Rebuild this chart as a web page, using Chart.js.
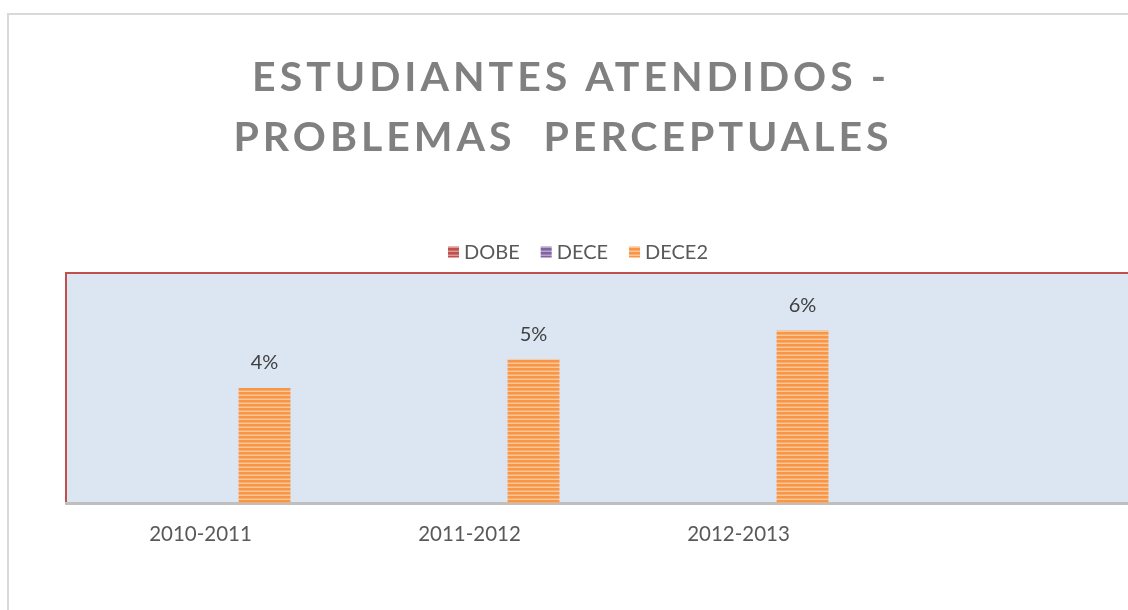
<!DOCTYPE html>
<html>
<head>
<meta charset="utf-8">
<script src="https://cdn.jsdelivr.net/npm/chart.js@4/dist/chart.umd.min.js"></script>
<style>
  html, body { margin: 0; padding: 0; overflow: hidden; background: #fff; }
  #wrap { width: 1160px; height: 610px; }
</style>
</head>
<body>
<div id="wrap"><canvas id="chart" width="1160" height="610"></canvas></div>
<script>
// datos
const categories = ['2010-2011', '2011-2012', '2012-2013', ''];
const seriesNames = ['DOBE', 'DECE', 'DECE2'];
const dobeValues = [null, null, null, null];
const deceValues = [null, null, null, null];
const dece2Values = [0.04, 0.05, 0.06, null];
const titleLines = ['ESTUDIANTES ATENDIDOS -', 'PROBLEMAS  PERCEPTUALES'];

const FONT = 'Lato, "Open Sans", sans-serif';

// relleno rayado como en Excel
function stripes(base, light, mid) {
    const c = document.createElement('canvas');
    c.width = 4; c.height = 4;
    const g = c.getContext('2d');
    g.fillStyle = base; g.fillRect(0, 0, 4, 2);
    g.fillStyle = mid; g.fillRect(0, 2, 4, 1);
    g.fillStyle = light; g.fillRect(0, 3, 4, 1);
    return g.createPattern(c, 'repeat');
}

const ctx = document.getElementById('chart').getContext('2d');
const fills = [
    stripes('#c0504d', '#dc9a98', '#cc6f6c'),
    stripes('#8064a2', '#b6a5cb', '#9a83b6'),
    stripes('#f79646', '#fcc696', '#f9ac6b')
];

const decoPlugin = {
    id: 'deco',
    beforeDraw(chart) {
        const c = chart.ctx;
        const a = chart.chartArea;
        c.save();
        c.fillStyle = '#ffffff';
        c.fillRect(0, 0, chart.width, chart.height);
        // marco exterior
        c.strokeStyle = '#d9d9d9';
        c.lineWidth = 2;
        c.strokeRect(8, 14, chart.width + 20, chart.height + 20);
        // fondo del area de trazado
        c.fillStyle = '#dce6f2';
        c.fillRect(a.left, a.top, a.right - a.left, a.bottom - a.top);
        c.strokeStyle = '#c0504d';
        c.lineWidth = 2;
        c.beginPath();
        c.moveTo(a.left, a.bottom);
        c.lineTo(a.left, a.top);
        c.lineTo(a.right, a.top);
        c.lineTo(a.right, a.bottom);
        c.stroke();
        // titulo
        c.fillStyle = '#808080';
        c.font = 'bold 41px ' + FONT;
        c.letterSpacing = '4px';
        c.textAlign = 'center';
        c.textBaseline = 'middle';
        c.fillText(titleLines[0], 571, 78);
        c.fillText(titleLines[1], 563, 138);
        c.letterSpacing = '0px';
        // leyenda
        c.font = '20px ' + FONT;
        c.textAlign = 'left';
        const box = 11, gap = 5, sep = 21;
        const widths = seriesNames.map(n => box + gap + c.measureText(n).width);
        const total = widths.reduce((s, w) => s + w, 0) + sep * (seriesNames.length - 1);
        let x = 578 - total / 2;
        const y = 252;
        seriesNames.forEach((n, i) => {
            c.fillStyle = fills[i];
            c.fillRect(x, y - box / 2, box, box);
            c.fillStyle = '#595959';
            c.fillText(n, x + box + gap, y + 1);
            x += widths[i] + sep;
        });
        c.restore();
    },
    afterDatasetsDraw(chart) {
        const c = chart.ctx;
        c.save();
        c.font = '20px ' + FONT;
        c.fillStyle = '#404040';
        c.textAlign = 'center';
        c.textBaseline = 'middle';
        chart.data.datasets.forEach((ds, di) => {
            chart.getDatasetMeta(di).data.forEach((el, i) => {
                const v = ds.data[i];
                if (v == null) return;
                c.fillText(Math.round(v * 100) + '%', el.x, el.y - 25);
            });
        });
        c.restore();
    }
};

new Chart(ctx, {
    type: 'bar',
    data: {
        labels: categories,
        datasets: [
            { label: seriesNames[0], data: dobeValues, backgroundColor: fills[0] },
            { label: seriesNames[1], data: deceValues, backgroundColor: fills[1] },
            { label: seriesNames[2], data: dece2Values, backgroundColor: fills[2] }
        ]
    },
    options: {
        responsive: false,
        animation: false,
        categoryPercentage: 0.714,
        barPercentage: 0.81,
        layout: { padding: { left: 66, right: 18, top: 273, bottom: 0 } },
        plugins: {
            legend: { display: false },
            title: { display: false },
            tooltip: { enabled: false }
        },
        scales: {
            x: {
                grid: { display: false, drawTicks: false },
                border: { color: '#bfbfbf', width: 3 },
                ticks: { color: '#595959', font: { family: FONT, size: 20.5 }, padding: 19 },
                afterFit(scale) { scale.height = 107; }
            },
            y: {
                display: false,
                min: 0,
                max: 0.08
            }
        }
    },
    plugins: [decoPlugin]
});
</script>
</body>
</html>
